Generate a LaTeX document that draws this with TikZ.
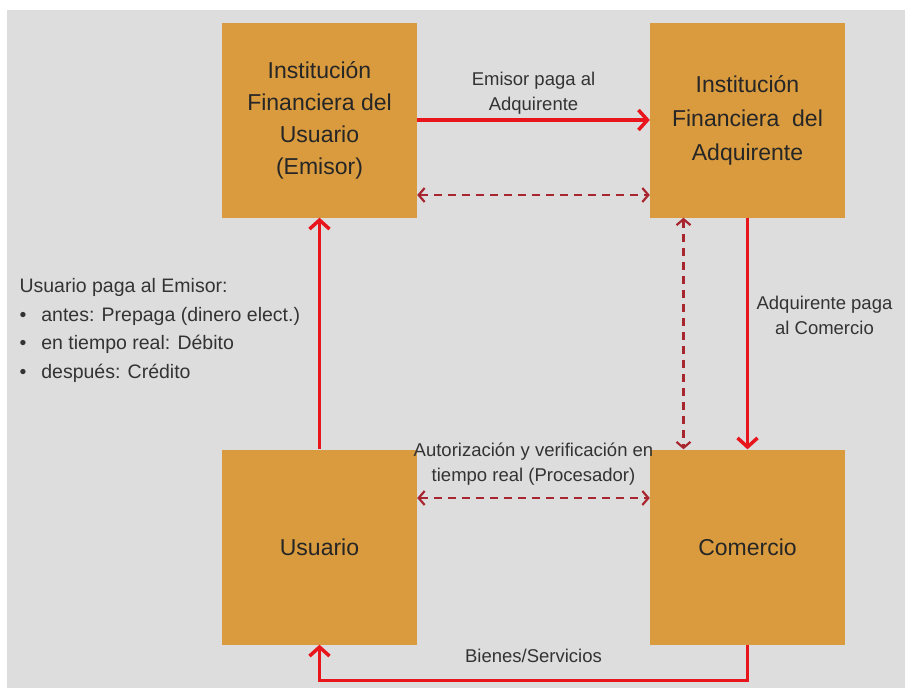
\documentclass[tikz,border=0pt]{standalone}
\usepackage{fontspec}
\setmainfont{Liberation Sans}
\usetikzlibrary{arrows.meta}
\definecolor{naranjacaja}{RGB}{217,155,62}
\definecolor{grisfondo}{RGB}{221,221,221}
\definecolor{rojopago}{RGB}{232,22,28}
\definecolor{rojoinfo}{RGB}{168,38,48}

\begin{document}
\begin{tikzpicture}[x=1pt,y=-1pt,
    caja/.style={fill=naranjacaja,minimum width=195pt,minimum height=195pt,inner sep=0pt,
                 align=center,text=black!85,font=\fontsize{23}{32}\selectfont},
    rotulo/.style={text=black!80,align=center,font=\fontsize{18.5}{25}\selectfont},
    pago/.style={draw=rojopago,line width=3.5pt,-{Straight Barb[length=9pt,width=20pt]}},
    info/.style={draw=rojoinfo,line width=2.2pt,dash pattern=on 8pt off 6pt,
                 {Straight Barb[length=6pt,width=14pt]}-{Straight Barb[length=6pt,width=14pt]}}]
  % fondo
  \fill[white] (0,0) rectangle (912,689);
  \useasboundingbox (0,0) rectangle (912,689);
  \fill[grisfondo] (7,10) rectangle (905,688);

  % cajas
  \node[caja] (emisor) at (319.5,120) {Institución\\Financiera del\\Usuario\\(Emisor)};
  \node[caja] (adquirente) at (747.5,120) {Institución\\[2pt]Financiera\ \ del\\[2pt]Adquirente};
  \node[caja] (usuario) at (319.5,547) {Usuario};
  \node[caja] (comercio) at (747.5,547) {Comercio};

  % flujos de pago
  \draw[pago] (usuario) -- (emisor);
  \draw[pago] (emisor) -- (adquirente)
      node[rotulo,midway,above=1pt] {Emisor paga al\\Adquirente};
  \draw[pago] (adquirente) -- (comercio)
      node[rotulo,pos=0.42,right=4pt] {Adquirente paga\\al Comercio};
  \draw[pago] (comercio.south) -- ++(0,36) -| (usuario.south)
      node[rotulo,pos=0.25,above=13pt] {Bienes/Servicios};

  % flujos de informacion
  \draw[info] ([yshift=-75pt]emisor.east) -- ([yshift=-75pt]adquirente.west);
  \draw[info] ([xshift=-64pt]adquirente.south) -- ([xshift=-64pt]comercio.north);
  \draw[info] ([yshift=49pt]usuario.east) -- ([yshift=49pt]comercio.west)
      node[rotulo,midway,above=8pt] {Autorización y verificación en\\tiempo real (Procesador)};

  % texto del usuario
  \node[anchor=north west,align=left,text=black!80,font=\fontsize{19.5}{28.5}\selectfont]
      (medios) at (16,275) {Usuario paga al Emisor:\\
      \textbullet\hspace{15pt}antes: Prepaga (dinero elect.)\\
      \textbullet\hspace{15pt}en tiempo real: Débito\\
      \textbullet\hspace{15pt}después: Crédito};
\end{tikzpicture}
\end{document}
